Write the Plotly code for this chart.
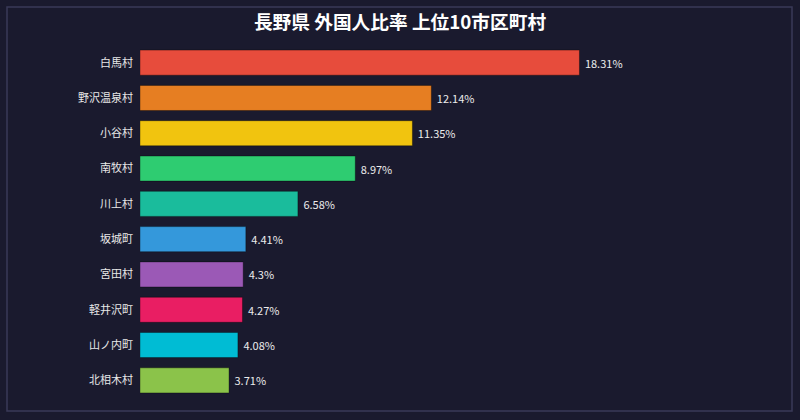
import plotly.graph_objects as go

municipalities = ["白馬村", "野沢温泉村", "小谷村", "南牧村", "川上村", "坂城町", "宮田村", "軽井沢町", "山ノ内町", "北相木村"]
ratios = [18.31, 12.14, 11.35, 8.97, 6.58, 4.41, 4.3, 4.27, 4.08, 3.71]
labels = ["18.31%", "12.14%", "11.35%", "8.97%", "6.58%", "4.41%", "4.3%", "4.27%", "4.08%", "3.71%"]
colors = ["#e74c3c", "#e67e22", "#f1c40f", "#2ecc71", "#1abc9c", "#3498db", "#9b59b6", "#e91e63", "#00bcd4", "#8bc34a"]

W, H = 800, 420
ML, MR, MT, MB = 140, 180, 45, 22
XMAX = 20.0

fig = go.Figure(go.Bar(
    x=ratios, y=municipalities, orientation="h",
    marker=dict(color=colors, line=dict(color="rgba(0,0,0,0.35)", width=1)),
    text=[" " + t for t in labels], textposition="outside", cliponaxis=False,
    textfont=dict(color="#ececec", size=11, family="Noto Sans CJK JP"),
    hoverinfo="skip",
))

pw = W - ML - MR
ph = H - MT - MB
def px_x(p): return (p - ML) / pw
def px_y(p): return (H - MB - p) / ph

fig.update_layout(
    width=W, height=H,
    margin=dict(l=ML, r=MR, t=MT, b=MB),
    paper_bgcolor="#1a1a2e", plot_bgcolor="#1a1a2e",
    font=dict(family="Noto Sans CJK JP", color="#e0e0e0", size=11),
    title=dict(text="<b>長野県 外国人比率 上位10市区町村</b>", x=0.5, xanchor="center",
               y=1 - 22 / H, yanchor="middle",
               font=dict(size=18.7, color="#ffffff", family="Noto Sans CJK JP")),
    xaxis=dict(range=[0, XMAX], visible=False, showgrid=False, zeroline=False),
    yaxis=dict(autorange="reversed", showgrid=False, zeroline=False, ticks="",
               tickfont=dict(size=11, color="#e8e8e8"), ticklabelstandoff=6),
    bargap=0.29,
    showlegend=False,
    shapes=[dict(type="rect", xref="paper", yref="paper",
                 x0=px_x(7), x1=px_x(792), y0=px_y(411), y1=px_y(7),
                 line=dict(color="#3a3a58", width=1.5), layer="below")],
)

fig.write_html("out.html")
